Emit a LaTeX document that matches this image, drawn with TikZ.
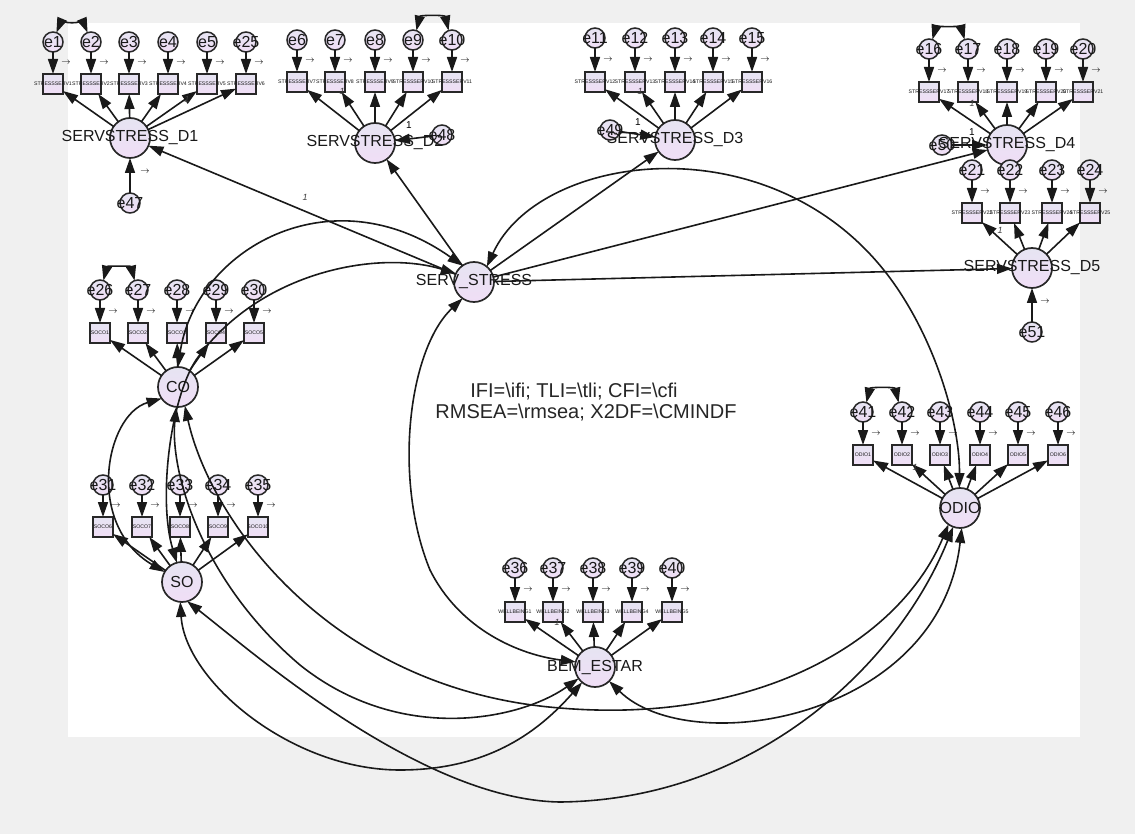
\documentclass[tikz,border=0pt]{standalone}
\usepackage{fontspec}
\setmainfont{Liberation Sans}
\usetikzlibrary{arrows.meta}
\definecolor{lattop}{RGB}{230,228,242}
\definecolor{latbot}{RGB}{240,222,246}
\definecolor{bggray}{RGB}{240,240,240}
\definecolor{edge}{RGB}{40,40,40}
\def\indlist{1/53/42/84/D1/STRESSSERV1,2/91/42/84/D1/STRESSSERV2,3/129/42/84/D1/STRESSSERV3,4/168/42/84/D1/STRESSSERV4,5/207/42/84/D1/STRESSSERV5,25/246/42/84/D1/STRESSSERV6,%
6/297/40/82/D2/STRESSSERV7,7/335/40/82/D2/STRESSSERV8,8/375/40/82/D2/STRESSSERV9,9/413/40/82/D2/STRESSSERV10,10/452/40/82/D2/STRESSSERV11,%
11/595/38/82/D3/STRESSSERV12,12/635/38/82/D3/STRESSSERV13,13/675/38/82/D3/STRESSSERV14,14/713/38/82/D3/STRESSSERV15,15/752/38/82/D3/STRESSSERV16,%
16/929/49/92/D4/STRESSSERV17,17/968/49/92/D4/STRESSSERV18,18/1007/49/92/D4/STRESSSERV19,19/1046/49/92/D4/STRESSSERV20,20/1083/49/92/D4/STRESSSERV21,%
21/972/170/213/D5/STRESSSERV22,22/1010/170/213/D5/STRESSSERV23,23/1052/170/213/D5/STRESSSERV24,24/1090/170/213/D5/STRESSSERV25,%
26/100/290/333/CO/SOCO1,27/138/290/333/CO/SOCO2,28/177/290/333/CO/SOCO3,29/216/290/333/CO/SOCO4,30/254/290/333/CO/SOCO5,%
31/103/485/527/SO/SOCO6,32/142/485/527/SO/SOCO7,33/180/485/527/SO/SOCO8,34/218/485/527/SO/SOCO9,35/258/485/527/SO/SOCO10,%
36/515/568/612/BEM/WELLBEING1,37/553/568/612/BEM/WELLBEING2,38/593/568/612/BEM/WELLBEING3,39/632/568/612/BEM/WELLBEING4,40/672/568/612/BEM/WELLBEING5,%
41/863/412/455/ODIO/ODIO1,42/902/412/455/ODIO/ODIO2,43/940/412/455/ODIO/ODIO3,44/980/412/455/ODIO/ODIO4,45/1018/412/455/ODIO/ODIO5,46/1058/412/455/ODIO/ODIO6}
\begin{document}
\begin{tikzpicture}[x=1pt,y=-1pt,
  every node/.style={inner sep=0pt,outer sep=0pt},
  lat/.style={circle,draw=edge,line width=1.7pt,top color=lattop,bottom color=latbot,minimum size=40pt},
  err/.style={circle,draw=edge,line width=1.5pt,top color=lattop,bottom color=latbot,minimum size=20pt},
  obs/.style={rectangle,draw=edge,line width=1.5pt,top color=lattop,bottom color=latbot,minimum size=20pt},
  big/.style={font=\fontsize{16}{16}\selectfont,text=black!90},
  tinylab/.style={font=\fontsize{5.2}{5.2}\selectfont,text=black!90},
  tickmark/.style={font=\fontsize{9}{9}\selectfont},
  one/.style={font=\fontsize{9}{9}\selectfont\itshape,text=black!75},
  arr/.style={-{Triangle[length=15pt,width=10pt]},line width=1.6pt,draw=black!90},
  cov/.style={{Triangle[length=15pt,width=10pt]}-{Triangle[length=15pt,width=10pt]},line width=1.6pt,draw=black!90}]
\fill[bggray] (0,0) rectangle (1135,834);
\fill[white] (68,23) rectangle (1080,737);
\useasboundingbox (0,0) rectangle (1135,834);
% latent variables
\node[lat] (D1) at (130,138) {};
\node[lat] (D2) at (375,143) {};
\node[lat] (D3) at (675,140) {};
\node[lat] (D4) at (1007,145) {};
\node[lat] (D5) at (1032,268) {};
\node[lat] (SS) at (474,282) {};
\node[lat] (CO) at (178,387) {};
\node[lat] (SO) at (182,582) {};
\node[lat] (BEM) at (595,667) {};
\node[lat] (ODIO) at (960,508) {};
% disturbances
\node[err] (e47) at (130,203) {};
\node[err] (e48) at (442,135) {};
\node[err] (e49) at (610,130) {};
\node[err] (e50) at (942,145) {};
\node[err] (e51) at (1032,332) {};
% indicators and their errors
\foreach \n/\x/\ey/\by/\lat/\lab in \indlist {
  \node[err] (e\n) at (\x,\ey) {};
  \node[obs] (b\n) at (\x,\by) {};
}
% measurement arrows
\foreach \n/\x/\ey/\by/\lat/\lab in \indlist {
  \draw[arr] (e\n) -- (b\n);
  \draw[arr] (\lat) -- (b\n);
}
% error covariances
\draw[cov] (e1.70) .. controls (60,24) and (84,24) .. (e2.110);
\draw[cov] (e9.70) .. controls (420,15) and (445,15) .. (e10.110);
\draw[cov] (e16.70) .. controls (936,27) and (961,27) .. (e17.110);
\draw[cov] (e26.70) .. controls (107,266) and (131,266) .. (e27.110);
\draw[cov] (e41.70) .. controls (870,387) and (895,387) .. (e42.110);
% second order
\draw[arr] (SS) -- (D1);
\draw[arr] (SS) -- (D2);
\draw[arr] (SS) -- (D3);
\draw[arr] (SS) -- (D4);
\draw[arr] (SS) -- (D5);
\draw[arr] (e47) -- (D1);
\draw[arr] (e48) -- (D2);
\draw[arr] (e49) -- (D3);
\draw[arr] (e50) -- (D4);
\draw[arr] (e51) -- (D5);
% factor covariances
\draw[cov] (CO.north) .. controls (195,250) and (330,172) .. (SS.125);
\draw[cov] (SS.155) .. controls (380,250) and (260,270) .. (196,360) .. controls (170,400) and (158,500) .. (SO.105);
\draw[cov] (CO.215) .. controls (105,415) and (85,525) .. (SO.150);
\draw[cov] (CO.265) .. controls (170,470) and (200,580) .. (300,665) .. controls (400,745) and (520,720) .. (BEM.215);
\draw[cov] (CO.290) .. controls (210,520) and (330,690) .. (560,708) .. controls (760,725) and (900,640) .. (ODIO.235);
\draw[cov] (SO.265) .. controls (185,680) and (290,770) .. (400,770) .. controls (490,770) and (540,730) .. (BEM.230);
\draw[cov] (SO.285) .. controls (250,650) and (420,800) .. (560,802) .. controls (760,800) and (900,660) .. (ODIO.250);
\draw[cov] (BEM.315) .. controls (690,760) and (940,720) .. (ODIO.275);
\draw[cov] (SS.235) .. controls (408,350) and (393,480) .. (430,570) .. controls (460,630) and (520,655) .. (BEM.165);
\draw[cov] (SS.50) .. controls (540,150) and (780,120) .. (895,285) .. controls (940,350) and (960,430) .. (ODIO.92);
% texts
\foreach \n/\x/\ey/\by/\lat/\lab in \indlist {
  \node[big] (le\n) at (\x,\ey) {e\n};
  \node[tinylab] (lb\n) at (\x,\by) {\lab};
  \node[tickmark] (m\n) at ({\x+13},{(\ey+\by)/2}) {$\rightarrow$};
}
\node[big] (le47) at (e47) {e47};
\node[big] (le48) at (e48) {e48};
\node[big] (le49) at (e49) {e49};
\node[big] (le50) at (e50) {e50};
\node[big] (le51) at (e51) {e51};
\node[tickmark] (m47) at (145,172) {$\rightarrow$};
\node[tickmark] (m51) at (1045,302) {$\rightarrow$};
\node[font=\fontsize{10}{10}\selectfont] (o48) at (409,125) {1};
\node[font=\fontsize{10}{10}\selectfont] (o49) at (638,122) {1};
\node[font=\fontsize{10}{10}\selectfont] (o50) at (972,132) {1};
\node[one] (o1) at (305,197) {1};
\node[one] (o2) at (1000,230) {1};
\node[one] (o3) at (187,99) {1};
\node[one] (o4) at (342,91) {1};
\node[one] (o5) at (640,91) {1};
\node[one] (o6) at (972,103) {1};
\node[one] (o7) at (557,622) {1};
\node[one] (o8) at (915,467) {1};
\node[big] (D1t) at (D1) {SERVSTRESS\_D1};
\node[big] (D2t) at (D2) {SERVSTRESS\_D2};
\node[big] (D3t) at (D3) {SERVSTRESS\_D3};
\node[big] (D4t) at (D4) {SERVSTRESS\_D4};
\node[big] (D5t) at (D5) {SERVSTRESS\_D5};
\node[big] (SSt) at (SS) {SERV\_STRESS};
\node[big] (COt) at (CO) {CO};
\node[big] (SOt) at (SO) {SO};
\node[big] (BEMt) at (BEM) {BEM\_ESTAR};
\node[big] (ODIOt) at (ODIO) {ODIO};
\node[font=\fontsize{20}{20}\selectfont,text=black!85] (fit1) at (574,392) {IFI=\textbackslash ifi; TLI=\textbackslash tli; CFI=\textbackslash cfi};
\node[font=\fontsize{20}{20}\selectfont,text=black!85] (fit2) at (586,413) {RMSEA=\textbackslash rmsea; X2DF=\textbackslash CMINDF};
\end{tikzpicture}
\end{document}
